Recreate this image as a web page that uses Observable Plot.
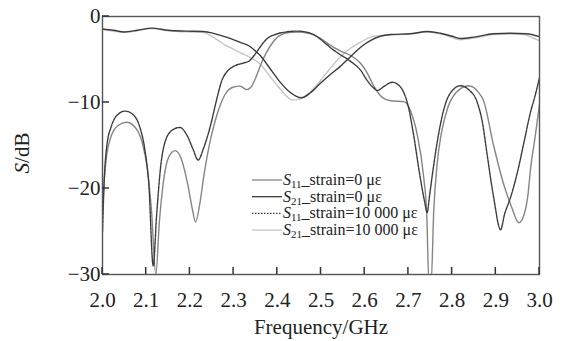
<!DOCTYPE html>
<html>
<head>
<meta charset="utf-8">
<script src="https://cdn.jsdelivr.net/npm/d3@7"></script>
<script src="https://cdn.jsdelivr.net/npm/@observablehq/plot@0.6"></script>
<style>
  body { margin: 0; background: #fff; }
  #chart { width: 562px; height: 341px; }
</style>
</head>
<body>
<div id="chart"></div>
<script>
// Axis ticks
const xTicks = [2.0, 2.1, 2.2, 2.3, 2.4, 2.5, 2.6, 2.7, 2.8, 2.9, 3.0];
const yTicks = [0, -10, -20, -30];

// Legend entries (subscript part kept separate for typesetting)
const legendSub = ["11", "21", "11", "21"];
const legendRest = ["_strain=0 \u03bc\u03b5", "_strain=0 \u03bc\u03b5", "_strain=10 000 \u03bc\u03b5", "_strain=10 000 \u03bc\u03b5"];

// S11, strain = 0 με
const fS11a = [2.000, 2.004, 2.010, 2.020, 2.035, 2.055, 2.075, 2.090, 2.102, 2.112, 2.122, 2.130, 2.140, 2.152, 2.166, 2.180, 2.195, 2.206, 2.213, 2.222, 2.232, 2.245, 2.257, 2.268, 2.280, 2.300, 2.315, 2.330, 2.340, 2.350, 2.362, 2.375, 2.390, 2.406, 2.430, 2.452, 2.475, 2.498, 2.520, 2.544, 2.570, 2.590, 2.605, 2.620, 2.640, 2.660, 2.690, 2.705, 2.720, 2.735, 2.742, 2.747, 2.752, 2.758, 2.766, 2.775, 2.790, 2.810, 2.838, 2.860, 2.872, 2.895, 2.918, 2.935, 2.953, 2.965, 2.973, 2.980, 2.990, 3.000];
const vS11a = [-23, -19, -16, -13.9, -12.7, -12.3, -12.9, -14.5, -17.5, -22.5, -30, -24, -19, -16.3, -15.6, -16.5, -19.5, -22.5, -23.9, -22, -18.5, -14.8, -12.3, -10.5, -9.1, -8.2, -8.1, -8.5, -8.2, -7.2, -5.6, -4.2, -3.0, -2.2, -1.85, -1.8, -2.0, -2.5, -3.3, -4.0, -4.6, -5.4, -6.5, -8.0, -9.4, -9.8, -9.9, -11, -13.7, -18.7, -23, -31, -31, -22.6, -17, -13.7, -10.6, -8.8, -8.05, -8.8, -9.8, -15, -19.5, -22, -24, -23, -21, -17.5, -14, -10.2];

// S21, strain = 0 με
const fS21a = [2.000, 2.025, 2.050, 2.080, 2.113, 2.150, 2.190, 2.230, 2.250, 2.270, 2.295, 2.315, 2.335, 2.350, 2.362, 2.384, 2.406, 2.429, 2.455, 2.475, 2.498, 2.520, 2.544, 2.574, 2.595, 2.613, 2.636, 2.660, 2.705, 2.744, 2.773, 2.800, 2.819, 2.849, 2.895, 2.934, 2.970, 3.000];
const vS21a = [-1.45, -1.6, -1.8, -1.6, -1.35, -1.6, -1.7, -1.75, -1.9, -2.2, -2.6, -3.0, -3.4, -4.0, -4.6, -6.1, -7.6, -8.8, -9.45, -8.9, -7.8, -6.8, -5.8, -4.35, -3.4, -2.8, -2.3, -2.1, -2.0, -1.75, -1.95, -2.3, -2.55, -2.4, -2.0, -1.95, -2.0, -2.35];

// S11, strain = 10 000 με
const fS11b = [2.000, 2.004, 2.010, 2.020, 2.035, 2.052, 2.070, 2.085, 2.097, 2.106, 2.116, 2.124, 2.133, 2.145, 2.160, 2.177, 2.192, 2.207, 2.219, 2.230, 2.246, 2.262, 2.272, 2.285, 2.300, 2.323, 2.335, 2.346, 2.360, 2.376, 2.395, 2.420, 2.445, 2.465, 2.483, 2.500, 2.521, 2.540, 2.559, 2.575, 2.590, 2.605, 2.618, 2.629, 2.645, 2.663, 2.678, 2.689, 2.700, 2.711, 2.727, 2.737, 2.743, 2.748, 2.754, 2.769, 2.781, 2.796, 2.819, 2.840, 2.857, 2.870, 2.880, 2.895, 2.911, 2.920, 2.934, 2.950, 2.965, 2.980, 2.990, 3.000];
const vS11b = [-25, -19, -15, -12.8, -11.4, -11.0, -11.4, -12.8, -15.5, -19.5, -29, -23, -17.5, -14.3, -13.2, -12.9, -13.7, -15.4, -16.7, -15.5, -12.9, -9.5, -7.6, -6.4, -5.8, -5.4, -5.2, -4.6, -3.6, -2.6, -2.1, -1.8, -1.7, -1.8, -2.1, -2.7, -3.6, -4.3, -4.9, -5.5, -6.2, -7.4, -8.2, -8.6, -8.1, -7.65, -8.0, -8.8, -10.5, -13.5, -18.7, -21.5, -22.8, -21, -18.7, -13.7, -10.8, -8.9, -8.05, -8.6, -9.9, -12.5, -16, -21, -24.8, -23, -21, -18, -14.5, -11, -9.2, -7.1];

// S21, strain = 10 000 με
const fS21b = [2.000, 2.050, 2.113, 2.150, 2.200, 2.230, 2.250, 2.277, 2.300, 2.315, 2.340, 2.360, 2.384, 2.406, 2.420, 2.434, 2.452, 2.475, 2.498, 2.520, 2.544, 2.570, 2.590, 2.613, 2.636, 2.682, 2.744, 2.780, 2.819, 2.850, 2.895, 2.934, 2.965, 2.985, 3.000];
const vS21b = [-1.5, -1.85, -1.4, -1.65, -1.8, -1.85, -2.3, -3.2, -3.8, -4.2, -4.8, -5.5, -7.0, -8.4, -9.2, -9.7, -9.6, -8.8, -7.5, -6.1, -4.7, -3.6, -3.0, -2.4, -2.2, -2.1, -1.8, -2.1, -2.7, -2.5, -2.1, -2.0, -2.1, -2.5, -2.8];

const toRows = (f, v) => f.map((x, i) => ({f: x, s: v[i]}));

// Line styles per series, in legend order
const styles = [
  {stroke: "#858585", strokeWidth: 1.4},
  {stroke: "#3c3c3c", strokeWidth: 1.4},
  {stroke: "#3c3c3c", strokeWidth: 1.4, strokeDasharray: "3,1"},
  {stroke: "#c6c6c6", strokeWidth: 1.4}
];

const serif = "'Liberation Serif', 'Times New Roman', Times, serif";
const W = 562, H = 341;
const M = {left: 102, right: 23, top: 16, bottom: 67};
const tickLen = 7;

const plot = Plot.plot({
  width: W,
  height: H,
  marginLeft: M.left,
  marginRight: M.right,
  marginTop: M.top,
  marginBottom: M.bottom,
  style: {fontFamily: serif, fontSize: "21px", color: "#222", background: "#fff"},
  x: {domain: [2, 3]},
  y: {domain: [-30, 0]},
  marks: [
    Plot.line(toRows(fS21b, vS21b), {x: "f", y: "s", curve: "monotone-x", clip: true, ...styles[3]}),
    Plot.line(toRows(fS11a, vS11a), {x: "f", y: "s", curve: "monotone-x", clip: true, ...styles[0]}),
    Plot.line(toRows(fS21a, vS21a), {x: "f", y: "s", curve: "monotone-x", clip: true, ...styles[1]}),
    Plot.line(toRows(fS11b, vS11b), {x: "f", y: "s", curve: "monotone-x", clip: true, ...styles[2]}),
    Plot.frame({stroke: "#555", strokeWidth: 1.4}),
    // tick labels
    Plot.axisX(xTicks, {tickSize: 0, tickPadding: 18, tickFormat: d3.format(".1f"), label: null}),
    Plot.axisY(yTicks, {tickSize: 0, tickPadding: 2, tickFormat: d3.format("d"), label: null}),
    Plot.text(["Frequency/GHz"], {frameAnchor: "bottom", dy: 53, lineAnchor: "middle", fontSize: 21, fill: "#222"})
  ]
});

document.getElementById("chart").appendChild(plot);

const svg = d3.select(plot);
const xScale = plot.scale("x");
const yScale = plot.scale("y");
// pixel mappers built from the plot's own scale descriptors
const xPix = d3.scaleLinear().domain(xScale.domain).range(xScale.range);
const yPix = d3.scaleLinear().domain(yScale.domain).range(yScale.range);
const bottom = H - M.bottom;

// Inward tick marks along the bottom and left edges of the frame
const tickG = svg.append("g")
  .attr("stroke", "#333")
  .attr("stroke-width", 1.5)
  .attr("fill", "none");
tickG.selectAll("line.xt").data(xTicks).join("line")
  .attr("class", "xt")
  .attr("x1", d => xPix(d)).attr("x2", d => xPix(d))
  .attr("y1", bottom).attr("y2", bottom - tickLen);
tickG.selectAll("line.yt").data(yTicks).join("line")
  .attr("class", "yt")
  .attr("x1", M.left).attr("x2", M.left + tickLen)
  .attr("y1", d => yPix(d)).attr("y2", d => yPix(d));

// y-axis title with italic S
const yTitle = svg.append("text")
  .attr("transform", "translate(29,153) rotate(-90)")
  .attr("text-anchor", "middle")
  .attr("font-family", serif)
  .attr("font-size", 21)
  .attr("fill", "#222");
yTitle.append("tspan").attr("font-style", "italic").text("S");
yTitle.append("tspan").text("/dB");

// Legend
const legend = svg.append("g").attr("transform", "translate(252,180)");
const rowGap = 16.7;
styles.forEach((st, i) => {
  const g = legend.append("g").attr("transform", `translate(0,${i * rowGap})`);
  g.append("line")
    .attr("x1", 0).attr("x2", 30).attr("y1", 0).attr("y2", 0)
    .attr("stroke", st.stroke)
    .attr("stroke-width", 1.3)
    .attr("stroke-dasharray", i === 2 ? "1.5,1.5" : null);
  const t = g.append("text")
    .attr("x", 31).attr("y", 5)
    .attr("text-anchor", "start")
    .attr("font-family", serif)
    .attr("font-size", 16)
    .attr("fill", "#222");
  t.append("tspan").attr("font-style", "italic").text("S");
  t.append("tspan").attr("font-size", 11).attr("dy", 3).text(legendSub[i]);
  t.append("tspan").attr("dy", -3).text(legendRest[i]);
});
</script>
</body>
</html>
